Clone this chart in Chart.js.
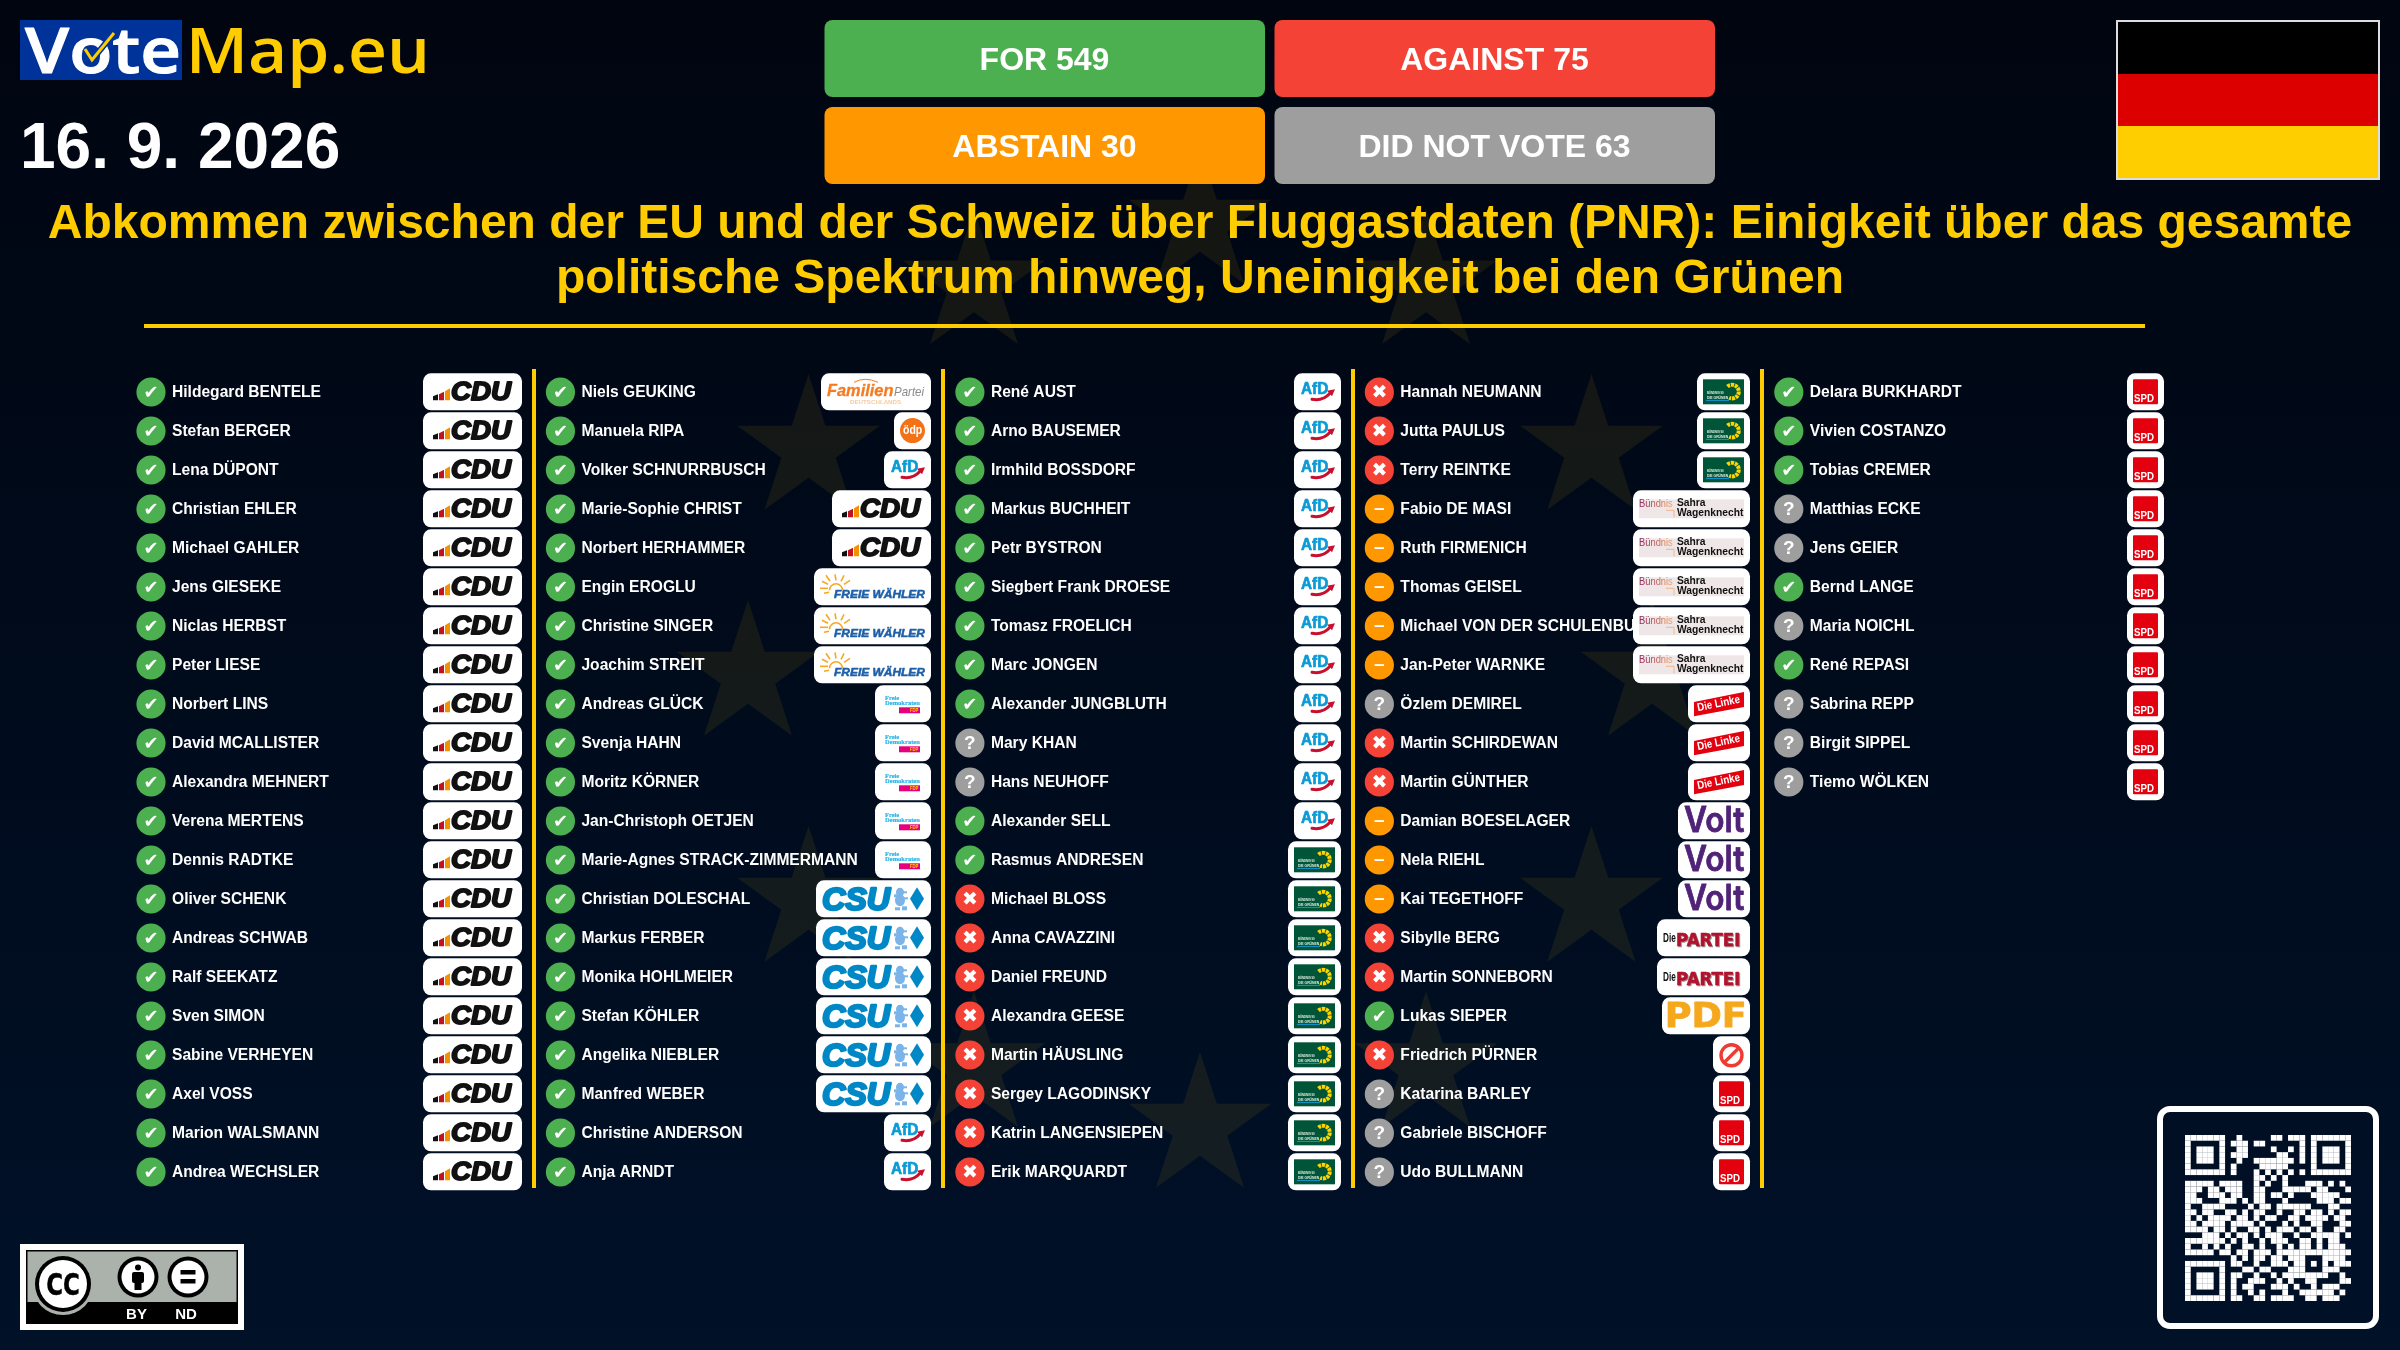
<!DOCTYPE html>
<html lang="de"><head><meta charset="utf-8"><title>VoteMap.eu</title>
<style>html,body{margin:0;padding:0;background:#000510;overflow:hidden}canvas{display:block}</style>
<script src="https://cdn.jsdelivr.net/npm/chart.js@4"></script></head><body>
<div style="width:2400px;height:1350px"><canvas id="c" width="2400" height="1350"></canvas></div>
<script>
const members = ["Hildegard BENTELE","Stefan BERGER","Lena DÜPONT","Christian EHLER","Michael GAHLER","Jens GIESEKE","Niclas HERBST","Peter LIESE","Norbert LINS","David MCALLISTER","Alexandra MEHNERT","Verena MERTENS","Dennis RADTKE","Oliver SCHENK","Andreas SCHWAB","Ralf SEEKATZ","Sven SIMON","Sabine VERHEYEN","Axel VOSS","Marion WALSMANN","Andrea WECHSLER",
"Niels GEUKING","Manuela RIPA","Volker SCHNURRBUSCH","Marie-Sophie CHRIST","Norbert HERHAMMER","Engin EROGLU","Christine SINGER","Joachim STREIT","Andreas GLÜCK","Svenja HAHN","Moritz KÖRNER","Jan-Christoph OETJEN","Marie-Agnes STRACK-ZIMMERMANN","Christian DOLESCHAL","Markus FERBER","Monika HOHLMEIER","Stefan KÖHLER","Angelika NIEBLER","Manfred WEBER","Christine ANDERSON","Anja ARNDT",
"René AUST","Arno BAUSEMER","Irmhild BOSSDORF","Markus BUCHHEIT","Petr BYSTRON","Siegbert Frank DROESE","Tomasz FROELICH","Marc JONGEN","Alexander JUNGBLUTH","Mary KHAN","Hans NEUHOFF","Alexander SELL","Rasmus ANDRESEN","Michael BLOSS","Anna CAVAZZINI","Daniel FREUND","Alexandra GEESE","Martin HÄUSLING","Sergey LAGODINSKY","Katrin LANGENSIEPEN","Erik MARQUARDT",
"Hannah NEUMANN","Jutta PAULUS","Terry REINTKE","Fabio DE MASI","Ruth FIRMENICH","Thomas GEISEL","Michael VON DER SCHULENBURG","Jan-Peter WARNKE","Özlem DEMIREL","Martin SCHIRDEWAN","Martin GÜNTHER","Damian BOESELAGER","Nela RIEHL","Kai TEGETHOFF","Sibylle BERG","Martin SONNEBORN","Lukas SIEPER","Friedrich PÜRNER","Katarina BARLEY","Gabriele BISCHOFF","Udo BULLMANN",
"Delara BURKHARDT","Vivien COSTANZO","Tobias CREMER","Matthias ECKE","Jens GEIER","Bernd LANGE","Maria NOICHL","René REPASI","Sabrina REPP","Birgit SIPPEL","Tiemo WÖLKEN"];
const votes = ("FFFFFFFFFFFFFFFFFFFFF"+"FFFFFFFFFFFFFFFFFFFFF"+"FFFFFFFFFNNFFAAAAAAAA"+"AAABBBBBNAABBBAAFANNN"+"FFFNNFNFNNN").split("");
const parties = [
 ...Array(21).fill("CDU"),
 "FAM","ODP","AFD","CDU","CDU","FW","FW","FW","FDP","FDP","FDP","FDP","FDP","CSU","CSU","CSU","CSU","CSU","CSU","AFD","AFD",
 ...Array(12).fill("AFD"), ...Array(9).fill("GRN"),
 "GRN","GRN","GRN","BSW","BSW","BSW","BSW","BSW","LNK","LNK","LNK","VLT","VLT","VLT","PRT","PRT","PDF","NI","SPD","SPD","SPD",
 ...Array(11).fill("SPD")];
const voteKinds = ["F","A","B","N"];
const voteNames = ["For","Against","Abstain","Did not vote"];
const voteColors = ["#4caf50","#f44336","#ff9800","#9e9e9e"];
const voteGlyphs = ["✔","✖","–","?"];
const totals = [["FOR 549","#4caf50"],["AGAINST 75","#f44336"],["ABSTAIN 30","#ff9800"],["DID NOT VOTE 63","#9e9e9e"]];
const titleLines = ["Abkommen zwischen der EU und der Schweiz über Fluggastdaten (PNR): Einigkeit über das gesamte","politische Spektrum hinweg, Uneinigkeit bei den Grünen"];
const dateLabel = "16. 9. 2026";
const ROWS = 21;
const logoRight = [522,931,1341,1750,2164];
const logoW = {CDU:99,FAM:110,ODP:37,AFD:47,FW:117,FDP:56,CSU:115,GRN:53,BSW:117,LNK:62,VLT:72,PRT:93,PDF:88,NI:37,SPD:37};
const qrRows = [
"11111110"+"0100000110111"+"01111111",
"10000010"+"1110110000001"+"01000001",
"10111010"+"0110000100101"+"01011101",
"10111010"+"1110000011001"+"01011101",
"10111010"+"0100111111101"+"01011101",
"10000010"+"1000011111000"+"01000001",
"11111110"+"1000101010101"+"01111111",
"00000000"+"0000110101000"+"00000000",
"11111011110010100100011101010",
"11101101110011000111110110001",
"11001110110011011010001111100",
"11100011101011000100000111011",
"10011110000101101111110001100",
"11011001101011001001101101011",
"10101111011010110011011110110",
"11011110111101000101001100011",
"11110110100110101110110100110",
"00011101011010111001001111101",
"11111110101001011100110101100",
"10010101001101001010110101110",
"11111011011011101111111111111",
"00000000101011011011100011110",
"11111110110010011101101010111",
"10000010001101100011100011100",
"10111010110010010111111110010",
"10111010100111001010011000011",
"10111010101100011101001011100",
"10000010100101000100111111010",
"11111110110011011110011011100"];

const SANS = "'Liberation Sans'";
function fit(ctx,text,x0,x1,base,font,color,stroke){
  ctx.save();ctx.font=font;ctx.textAlign="left";ctx.textBaseline="alphabetic";
  const m=ctx.measureText(text);const w=m.actualBoundingBoxRight+m.actualBoundingBoxLeft;
  ctx.translate(x0+m.actualBoundingBoxLeft*(x1-x0)/w,base);ctx.scale((x1-x0)/w,1);
  ctx.fillStyle=color;
  if(stroke){ctx.strokeStyle=color;ctx.lineWidth=stroke;ctx.lineJoin="round";ctx.strokeText(text,0,0);}
  ctx.fillText(text,0,0);ctx.restore();
}
function rr(ctx,x,y,w,h,r,fill){ctx.beginPath();ctx.roundRect(x,y,w,h,r);ctx.fillStyle=fill;ctx.fill();}
function poly(ctx,pts,fill){ctx.beginPath();pts.forEach((p,i)=>i?ctx.lineTo(p[0],p[1]):ctx.moveTo(p[0],p[1]));ctx.closePath();ctx.fillStyle=fill;ctx.fill();}
function drawStar(ctx,cx,cy,R){ctx.beginPath();for(let i=0;i<10;i++){const r=i%2?R*0.382:R,a=-Math.PI/2+i*Math.PI/5;const x=cx+r*Math.cos(a),y=cy+r*Math.sin(a);i?ctx.lineTo(x,y):ctx.moveTo(x,y);}ctx.closePath();ctx.fill();}

const logos = {
 CDU(c){poly(c,[[10,23],[15,21],[15,27],[10,27]],"#111");poly(c,[[16,21],[21,18.5],[21,27],[16,27]],"#c1121f");poly(c,[[22,18],[27,15],[27,27],[22,27]],"#f39200");
   fit(c,"CDU",29,89,26.6,"italic bold 25px "+SANS,"#111",1.8);},
 FAM(c){c.beginPath();c.moveTo(33,9);c.quadraticCurveTo(44,3,57,9);c.strokeStyle="#f47b20";c.lineWidth=1;c.stroke();
   fit(c,"Familien",6,72,23,"italic bold 17px "+SANS,"#f47b20",.3);fit(c,"Partei",73,104,23,"italic 13px "+SANS,"#8a8a8a");
   fit(c,"DEUTSCHLANDS",29,81,31,"bold 5px "+SANS,"#f6cba0");},
 ODP(c){c.beginPath();c.arc(18.5,18.3,12.5,0,7);c.fillStyle="#f47216";c.fill();fit(c,"ödp",9,28,22,"bold 12px "+SANS,"#fff");},
 AFD(c){fit(c,"AfD",7,34,21,"bold 17px "+SANS,"#0a9ad6",.7);c.beginPath();c.moveTo(18,26);c.quadraticCurveTo(29,28,36,20);c.strokeStyle="#c8102e";c.lineWidth=3;c.lineCap="round";c.stroke();c.lineCap="butt";poly(c,[[41,16],[33,17.5],[38,23]],"#c8102e");},
 FW(c){c.beginPath();c.arc(22,22,6.5,Math.PI,2*Math.PI);c.strokeStyle="#f7a823";c.lineWidth=1.6;c.stroke();
   [[6,20,14,20],[8,13,14,16],[12,7,16,13],[21,6,22,12],[30,7,27,13],[36,12,30,16],[10,25,15,24]].forEach(l=>{c.beginPath();c.moveTo(l[0],l[1]);c.lineTo(l[2],l[3]);c.stroke();});
   fit(c,"FREIE WÄHLER",20,111,30,"italic bold 11px "+SANS,"#1d5fa8",.5);},
 FDP(c){fit(c,"Freie",10,24,15,"bold 7px 'Liberation Serif'","#29b5e8",.2);fit(c,"Demokraten",10,45,20,"bold 7px 'Liberation Serif'","#29b5e8",.2);
   c.fillStyle="#e5007d";c.fillRect(24,22,21,6);fit(c,"FDP",35,44,27,"bold 5px "+SANS,"#ffd000");},
 CSU(c){fit(c,"CSU",7,75,29.6,"italic bold 32px "+SANS,"#0088c6",2.4);
   c.fillStyle="#7ab4e8";c.beginPath();c.ellipse(84,12,4,4.5,0,0,7);c.fill();c.beginPath();c.ellipse(84,20,5,6,0,0,7);c.fill();c.fillRect(79,27,5,3);c.fillRect(86,26,5,4);c.fillRect(87,11,4,2);c.fillRect(88,17,4,2);c.fillRect(78,14,3,3);
   poly(c,[[101,7],[108,18.5],[101,30],[94,18.5]],"#0088c6");},
 GRN(c){c.fillStyle="#005437";c.fillRect(6,6,41,25);
   c.save();c.beginPath();c.arc(35,18.3,6.8,-2.3,2.0);c.strokeStyle="#ffd500";c.lineWidth=4;c.setLineDash([3,.8]);c.stroke();c.restore();
   fit(c,"BÜNDNIS 90",10,27,21,"bold 4.4px "+SANS,"#dfeee0");fit(c,"DIE GRÜNEN",10,31,26,"bold 4.4px "+SANS,"#dfeee0");
   c.fillStyle="#0a9ad6";c.fillRect(9,26.6,23,1);},
 BSW(c){c.fillStyle="#efe7e7";c.fillRect(6,9,105,19);
   const g=c.createLinearGradient(6,0,40,0);g.addColorStop(0,"#96305e");g.addColorStop(1,"#f3a060");
   fit(c,"Bündnis",6,40,17,"11.5px "+SANS,g);fit(c,"Sahra",44,73,16,"bold 10px "+SANS,"#111");fit(c,"Wagenknecht",44,111,26,"bold 10.5px "+SANS,"#111");
   c.strokeStyle="#f3b58a";c.lineWidth=1;c.beginPath();c.moveTo(33,20);c.lineTo(41,20);c.lineTo(41,27);c.stroke();},
 LNK(c){poly(c,[[6,16.7],[56,6.7],[56,21.7],[6,31]],"#e3000f");c.save();c.translate(10,26);c.rotate(-0.2);fit(c,"Die Linke",0,43,0,"bold 11.5px "+SANS,"#fff");c.restore();},
 VLT(c){fit(c,"Volt",6,66,30,"600 35px Inter","#502379",.8);},
 PRT(c){fit(c,"Die",6,19,23,"bold 12px "+SANS,"#111");fit(c,"PARTEI",21,83,28,"bold 17px 'DejaVu Sans'","#999",.6);fit(c,"PARTEI",20,82,27,"bold 17px 'DejaVu Sans'","#b3122d",.6);},
 PDF(c){fit(c,"PDF",6,82,30,"bold 33px 'DejaVu Sans'","#f5a81c",.8);},
 NI(c){c.beginPath();c.arc(18.5,19,10.5,0,7);c.strokeStyle="#ee3b33";c.lineWidth=3.4;c.stroke();c.beginPath();c.moveTo(11.5,26);c.lineTo(25.5,12);c.stroke();},
 SPD(c){rr(c,6,6,25,25,1,"#e3000f");fit(c,"SPD",7,27,29,"bold 11px "+SANS,"#fff");}
};

const tableau = {
 id:"tableau",
 beforeDraw(chart){
  const c=chart.ctx;
  const g=c.createLinearGradient(0,0,0,1350);g.addColorStop(0,"#000510");g.addColorStop(1,"#001128");
  c.fillStyle=g;c.fillRect(0,0,2400,1350);
  c.fillStyle="rgba(255,204,0,0.08)";
  for(let i=0;i<12;i++){const a=i*Math.PI/6;drawStar(c,1200+452*Math.sin(a),675-452*Math.cos(a),75);}
  c.fillStyle="#003399";c.fillRect(20,20,162,60);
  fit(c,"Vote",25,178,73,"600 64px 'Open Sans'","#fff",1);
  c.strokeStyle="#003399";c.lineWidth=6;c.beginPath();c.moveTo(85,49);c.lineTo(92,60);c.lineTo(114,33);c.stroke();
  c.strokeStyle="#ffcc00";c.lineWidth=3;c.beginPath();c.moveTo(85,49);c.lineTo(92,60);c.lineTo(114,33);c.stroke();
  fit(c,"Map.eu",192,425,73,"600 64px 'Open Sans'","#ffcc00");
  c.fillStyle="#fff";c.font="bold 64px "+SANS;c.textAlign="left";c.textBaseline="alphabetic";c.fillText(dateLabel,20,168);
  const bx=[824.5,1274.5],by=[20,107];
  totals.forEach((t,i)=>{const x=bx[i%2],y=by[i>>1];rr(c,x,y,440.5,77,8,t[1]);c.fillStyle="#fff";c.font="bold 32px "+SANS;c.textAlign="center";c.fillText(t[0],x+220,y+49.5);});
  c.fillStyle="#ddd";c.fillRect(2116,20,264,160);
  c.fillStyle="#000";c.fillRect(2118,22,260,52);c.fillStyle="#dd0000";c.fillRect(2118,74,260,52);c.fillStyle="#ffce00";c.fillRect(2118,126,260,52);
  c.fillStyle="#ffcc00";c.font="bold 48px "+SANS;c.textAlign="center";
  c.fillText(titleLines[0],1200,238);c.fillText(titleLines[1],1200,293);
  c.fillRect(144,324,2001,4);
  [532,941,1351,1760].forEach(x=>c.fillRect(x,369,4,819));
 },
 afterDatasetsDraw(chart){
  const c=chart.ctx,sx=chart.scales.x,sy=chart.scales.y;
  chart.data.datasets.forEach((d,di)=>{
   const g=voteGlyphs[di];
   chart.getDatasetMeta(di).data.forEach(p=>{
    c.fillStyle="#fff";c.textAlign="center";c.textBaseline="middle";
    if(di===0){c.font="18px 'DejaVu Sans'";c.fillText(g,p.x,p.y+1);}
    else if(di===1){c.font="19px 'DejaVu Sans'";c.fillText(g,p.x,p.y+1);}
    else{c.font="bold 19px "+SANS;c.fillText(g,p.x,p.y+(di==2?0:0.5));}
   });
  });
  c.textBaseline="alphabetic";c.textAlign="left";
  members.forEach((n,i)=>{
   const col=Math.floor(i/ROWS),row=i%ROWS;
   c.fillStyle="#fff";c.font="bold 15.6px "+SANS;c.fillText(n,sx.getPixelForValue(col)+21,sy.getPixelForValue(row)+5);
  });
  members.forEach((n,i)=>{
   const col=Math.floor(i/ROWS),row=i%ROWS,p=parties[i],w=logoW[p];
   const X=logoRight[col]-w,Y=sy.getPixelForValue(row)-18.7;
   rr(c,X,Y,w,37,8,"#fff");
   c.save();c.translate(X,Y);logos[p](c);c.restore();
  });
  c.fillStyle="#fff";c.fillRect(20,1244,224,86);
  c.fillStyle="#000";c.fillRect(26,1250,212,74);
  c.fillStyle="#aab2ab";c.fillRect(27.5,1251.5,209,50.5);
  c.beginPath();c.arc(63,1284,31,0,7);c.fillStyle="#aab2ab";c.fill();
  c.beginPath();c.arc(63,1284,28,0,7);c.fillStyle="#000";c.fill();
  c.beginPath();c.arc(63,1284,24,0,7);c.fillStyle="#fff";c.fill();
  fit(c,"CC",47,79,1295,"bold 30px 'DejaVu Sans'","#000",.5);
  [138,188].forEach(x=>{c.beginPath();c.arc(x,1277,20.5,0,7);c.fillStyle="#000";c.fill();c.beginPath();c.arc(x,1277,16.5,0,7);c.fillStyle="#fff";c.fill();});
  c.fillStyle="#000";c.beginPath();c.arc(138,1267.5,3,0,7);c.fill();rr(c,132,1272,12,11,2,"#000");c.fillRect(134.5,1280,7,10);
  c.fillRect(180.5,1270,15,4.5);c.fillRect(180.5,1279,15,4.5);
  c.fillStyle="#fff";c.font="bold 15px "+SANS;c.textAlign="center";c.textBaseline="alphabetic";c.fillText("BY",136.5,1319);c.fillText("ND",186,1319);
  c.strokeStyle="#fff";c.lineWidth=6;c.beginPath();c.roundRect(2160,1109,216,217,10);c.stroke();
  c.fillStyle="#fff";const m=166/29;
  qrRows.forEach((r,y)=>[...r].forEach((b,x)=>{if(b==="1")c.fillRect(2185+x*m,1135+y*m,m,m);}));
 }
};

const voteDatasets = voteKinds.map((k,di)=>({
  label:voteNames[di],
  data:votes.flatMap((v,i)=>v===k?[{x:Math.floor(i/ROWS),y:i%ROWS}]:[]),
  pointRadius:14.6,pointHoverRadius:14.6,pointBorderWidth:0,
  backgroundColor:voteColors[di],borderColor:voteColors[di],showLine:false
}));

new Chart(document.getElementById("c"),{
 type:"scatter",
 data:{datasets:voteDatasets},
 plugins:[tableau],
 options:{
  responsive:false,animation:false,devicePixelRatio:1,
  layout:{padding:0,autoPadding:false},
  events:[],
  plugins:{legend:{display:false},tooltip:{enabled:false},title:{display:false}},
  scales:{
   x:{type:"linear",display:false,bounds:"data",min:-151/409.45,max:(2400-151)/409.45},
   y:{type:"linear",display:false,bounds:"data",reverse:true,min:-392/39,max:(1350-392)/39}
  }
 }
});
</script></body></html>
